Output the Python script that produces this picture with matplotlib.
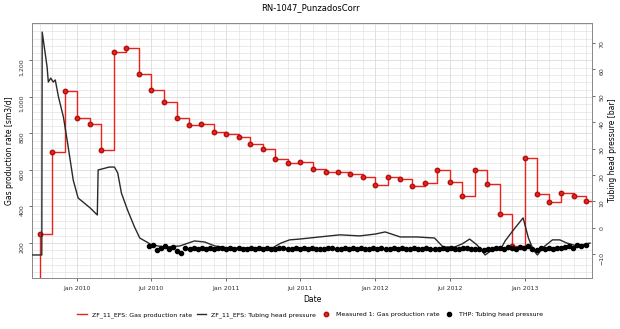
import pandas as pd
from matplotlib import pyplot as plt
import matplotlib.dates as mdates
from matplotlib.ticker import MultipleLocator, FuncFormatter

# simulated gas rate (monthly steps) and measured gas rate points
gas_dates = pd.date_range("2009-10-01", periods=45, freq="MS")
gas_rate = [250, 700, 1033, 885, 852, 710, 1247, 1268, 1126, 1038,
            973, 885, 847, 852, 808, 797, 781, 742, 715, 660,
            638, 644, 605, 589, 589, 578, 562, 518, 562, 551,
            512, 529, 600, 534, 458, 600, 523, 359, 184, 666,
            468, 425, 474, 458, 430]

# simulated tubing head pressure
thp_sim_dates = pd.to_datetime([
    "2009-09-12", "2009-10-06", "2009-10-07", "2009-10-19", "2009-10-22", "2009-10-28",
    "2009-11-03", "2009-11-08", "2009-11-16", "2009-11-28", "2009-12-09", "2009-12-22",
    "2010-01-03", "2010-01-15", "2010-02-02", "2010-02-19", "2010-02-21", "2010-03-03",
    "2010-03-20", "2010-04-02", "2010-04-10", "2010-04-19", "2010-05-04", "2010-05-21",
    "2010-06-03", "2010-06-20", "2010-07-02", "2010-08-03", "2010-09-09", "2010-10-15",
    "2010-11-09", "2010-12-04", "2011-01-03", "2011-02-28", "2011-04-24", "2011-05-15",
    "2011-06-05", "2011-06-29", "2011-08-17", "2011-10-06", "2011-11-24", "2012-01-01",
    "2012-01-25", "2012-03-02", "2012-04-12", "2012-05-25", "2012-06-15", "2012-07-13",
    "2012-08-01", "2012-08-19", "2012-09-06", "2012-09-26", "2012-10-13", "2012-11-02",
    "2012-11-14", "2012-12-04", "2012-12-28", "2013-01-10", "2013-01-22", "2013-02-01",
    "2013-02-16", "2013-03-10", "2013-03-28", "2013-04-14", "2013-05-09", "2013-06-10"])
thp_sim = [-10.2, -10.2, 74, 60.8, 55.1, 56.6,
           55.1, 55.9, 49.4, 41.9, 31.3, 18.1,
           11.3, 9.8, 7.5, 4.9, 21.9, 22.3,
           23.0, 23.0, 20.8, 13.2, 6.8, 0.4,
           -3.8, -5.3, -6.4, -7.2, -6.8, -4.9,
           -5.3, -6.8, -7.5, -7.5, -7.5, -5.7,
           -4.5, -4.2, -3.4, -2.6, -3.0, -2.3,
           -1.5, -3.4, -3.4, -3.8, -7.2, -7.2,
           -6.0, -4.2, -6.4, -10.2, -8.3, -8.3,
           -4.9, -0.8, 3.8, -3.8, -8.3, -10.2,
           -7.2, -4.5, -4.5, -5.7, -6.8, -5.7]

# measured tubing head pressure
thp_meas_dates = pd.date_range("2010-06-25", periods=108, freq="10D")
thp_meas = [-7.0, -6.5, -8.2, -7.4, -6.8, -8.0, -7.2, -8.6, -9.4, -7.6,
            -7.8, -7.4, -8.0, -7.6, -7.9, -7.5, -8.1, -7.7, -7.6, -8.0,
            -7.7, -7.8, -7.5, -7.9, -8.0, -7.6, -7.8, -7.7, -7.9, -7.6,
            -7.8, -8.0, -7.7, -7.5, -7.9, -7.8, -7.6, -8.0, -7.7, -7.8,
            -7.6, -7.9, -7.8, -8.0, -7.7, -7.5, -7.9, -7.8, -7.6, -7.9,
            -7.7, -7.8, -7.4, -8.0, -7.8, -7.6, -7.9, -7.7, -7.8, -8.0,
            -7.7, -7.9, -7.6, -7.8, -8.0, -7.7, -7.9, -7.8, -7.6, -7.9,
            -7.8, -8.1, -7.7, -7.9, -7.6, -7.8, -8.0, -7.7, -7.5, -7.9,
            -8.0, -7.8, -8.3, -8.1, -7.9, -7.7, -7.6, -7.8, -7.3, -7.5,
            -7.9, -7.2, -7.6, -7.0, -7.8, -8.2, -7.6, -7.9, -7.7, -7.8,
            -7.4, -7.6, -7.2, -6.8, -7.5, -6.5, -7.0, -6.6]

fs = 4.5
grid_col = "#dcdcdc"

fig = plt.figure(figsize=(6.2, 3.29), dpi=100)
ax = fig.add_axes([0.0516, 0.155, 0.9034, 0.775])
ax2 = ax.twinx()

# red step line starts from zero at the first date
step_x = [gas_dates[0]] + list(gas_dates) + [pd.Timestamp("2013-06-20")]
step_y = [0] + gas_rate + [gas_rate[-1]]
ax.plot(step_x, step_y, drawstyle="steps-post", color="#e8231c", lw=1.0,
        label="ZF_11_EFS: Gas production rate", zorder=3)
ax.plot(gas_dates, gas_rate, "o", color="#e8231c", mec="#b01010", ms=3.2,
        label="Measured 1: Gas production rate", zorder=4)

ax2.plot(thp_sim_dates, thp_sim, color="#2a2a2a", lw=1.0,
         label="ZF_11_EFS: Tubing head pressure", zorder=3)
ax2.plot(thp_meas_dates, thp_meas, "o", color="black", ms=3.0,
         label="THP: Tubing head pressure", zorder=4)

ax.set_xlim(pd.Timestamp("2009-09-12"), pd.Timestamp("2013-06-15"))
ax.set_ylim(8, 1405)
ax2.set_ylim(-18.9, 77.4)

ax.xaxis.set_major_locator(mdates.MonthLocator(bymonth=[1, 7]))
ax.xaxis.set_minor_locator(mdates.MonthLocator())
ax.xaxis.set_major_formatter(mdates.DateFormatter("%b %Y"))
ax.set_yticks([200, 400, 600, 800, 1000, 1200])
ax.yaxis.set_minor_locator(MultipleLocator(40))
ax.yaxis.set_major_formatter(FuncFormatter(lambda v, p: "{:,.0f}".format(v)))
ax2.set_yticks(range(-10, 80, 10))

ax.grid(True, which="major", color=grid_col, lw=0.6)
ax.grid(True, which="minor", color=grid_col, lw=0.4)
ax.set_axisbelow(True)

for a in (ax, ax2):
    a.tick_params(labelsize=fs, length=2, width=0.5, colors="#333333")
    a.tick_params(which="minor", length=0)
    for s in a.spines.values():
        s.set_color("#888888")
        s.set_linewidth(0.6)
ax.tick_params(axis="y", labelrotation=90)
ax2.tick_params(axis="y", labelrotation=90)

ax.set_xlabel("Date", fontsize=5.5, labelpad=3)
ax.set_ylabel("Gas production rate [sm3/d]", fontsize=5.5, labelpad=4)
ax2.set_ylabel("Tubing head pressure [bar]", fontsize=5.5, labelpad=2)
fig.text(0.5, 1 - 8 / 329, "RN-1047_PunzadosCorr", fontsize=6,
         ha="center", va="center")

h1, l1 = ax.get_legend_handles_labels()
h2, l2 = ax2.get_legend_handles_labels()
handles = [h1[0], h2[0], h1[1], h2[1]]
labels = [l1[0], l2[0], l1[1], l2[1]]
fig.legend(handles, labels, loc="center", bbox_to_anchor=(0.5, 0.043), ncol=4,
           frameon=False, fontsize=fs, handlelength=1.5, columnspacing=0.8)

fig.savefig("out.png", dpi=100)
